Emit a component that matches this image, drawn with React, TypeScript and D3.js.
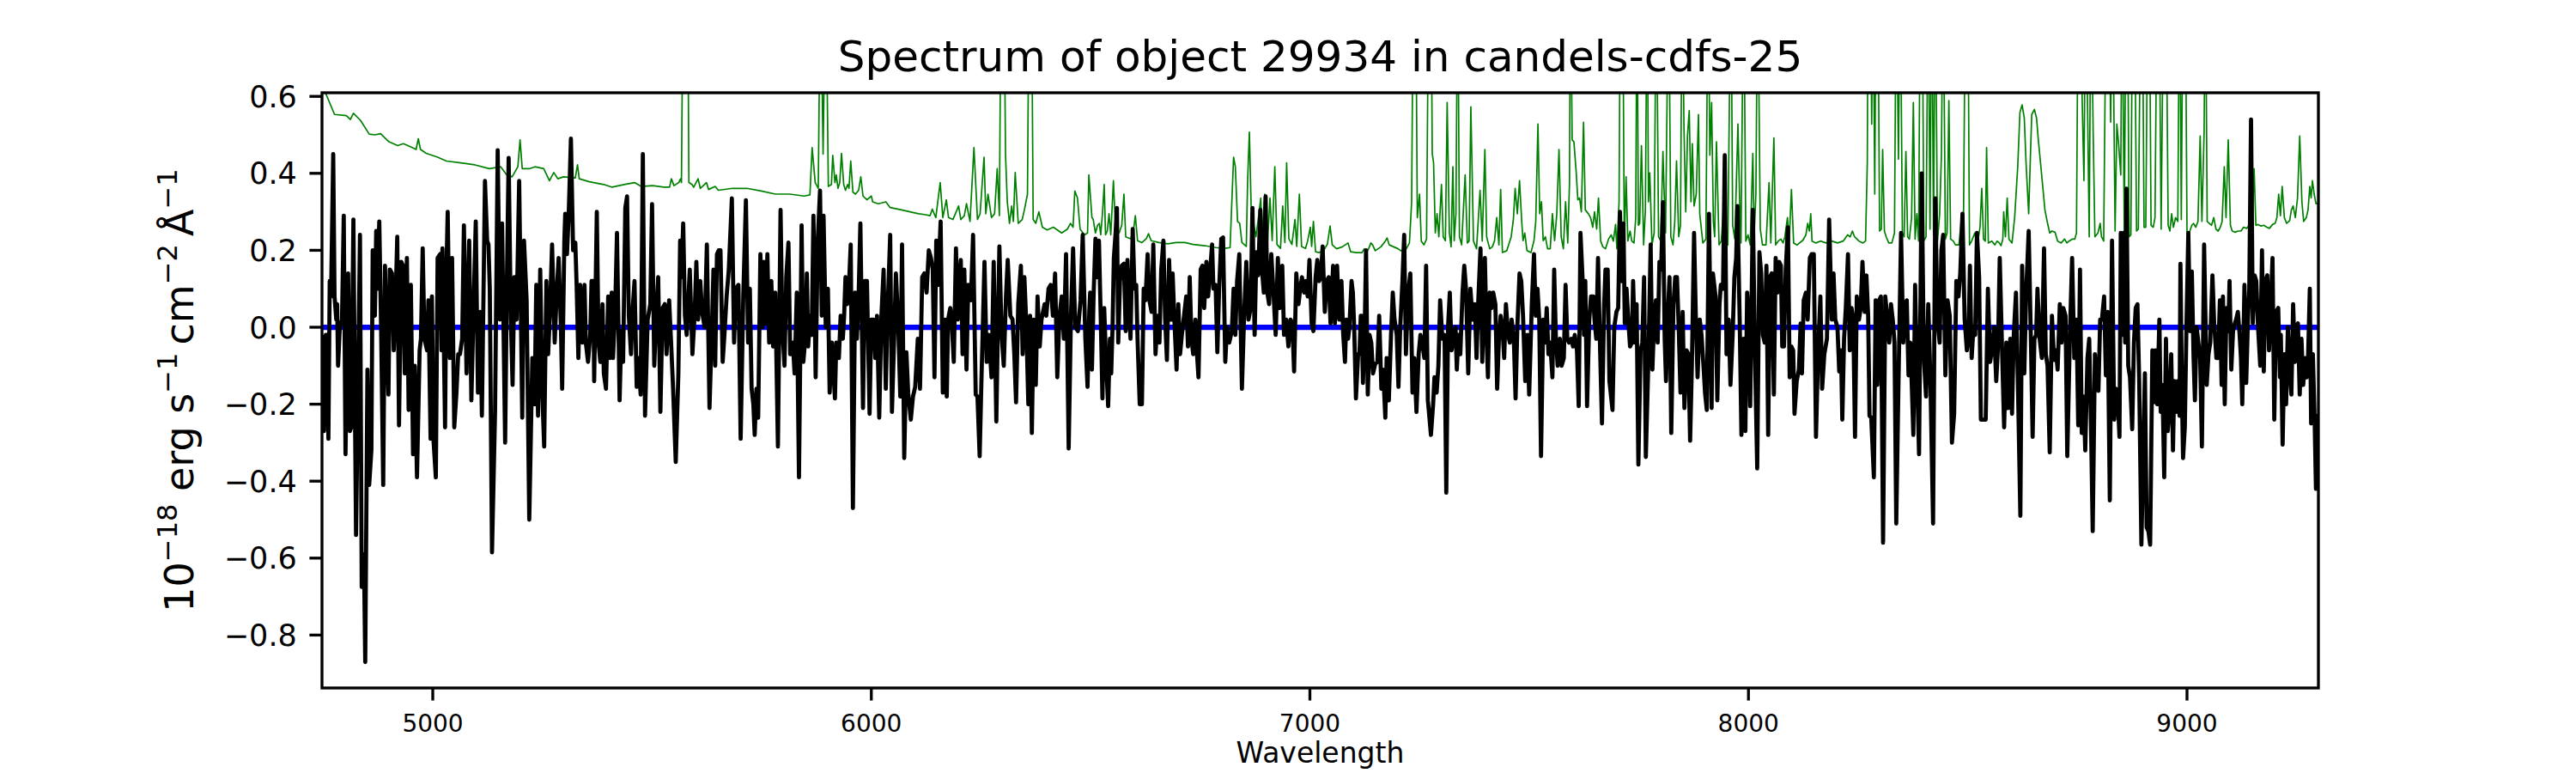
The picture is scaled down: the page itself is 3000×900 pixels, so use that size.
import React, { useEffect } from 'react';
import * as d3 from 'd3';

const TITLE = 'Spectrum of object 29934 in candels-cdfs-25';
const X_LABEL = 'Wavelength';
const X_TICKS = [5000, 6000, 7000, 8000, 9000];
const Y_TICKS = [-0.8, -0.6, -0.4, -0.2, 0.0, 0.2, 0.4, 0.6];
const X_DOMAIN: [number, number] = [4747.4, 9299.6];
const Y_DOMAIN: [number, number] = [-0.9375, 0.6094];

// Observed flux [wavelength (Å), flux (1e-18 erg/s/cm2/Å)]
const flux: [number, number][] = [
  [4749,-0.02],[4752,-0.27],[4756,-0.02],[4759,-0.02],[4762,-0.29],[4765,0.12],[4768,0.08],[4773,0.45],[4776,0.08],[4780,0.02],[4782,0.06],[4784,-0.10],[4788,0.00],[4793,0.02],[4797,0.29],[4801,-0.33],[4807,0.14],[4811,-0.27],[4814,-0.26],[4819,0.28],[4825,-0.54],[4834,0.24],[4838,-0.675],[4843,-0.59],[4846,-0.87],[4851,-0.11],[4855,-0.41],[4860,-0.32],[4863,0.20],[4868,0.03],[4871,0.25],[4874,0.10],[4878,0.275],[4882,0.01],[4887,-0.41],[4891,0.16],[4895,-0.02],[4899,-0.175],[4902,0.15],[4907,0.14],[4911,-0.06],[4915,0.06],[4919,0.235],[4923,-0.255],[4928,0.17],[4932,0.16],[4936,-0.12],[4941,0.18],[4945,-0.215],[4950,0.11],[4955,-0.33],[4959,-0.10],[4964,-0.39],[4970,-0.06],[4973,-0.03],[4977,0.205],[4981,-0.03],[4987,-0.06],[4990,0.07],[4995,-0.29],[4998,0.08],[5002,-0.30],[5007,-0.39],[5011,0.18],[5017,0.19],[5020,-0.06],[5022,0.205],[5028,-0.26],[5031,0.14],[5034,0.30],[5039,-0.08],[5044,0.18],[5049,-0.26],[5054,-0.17],[5058,-0.07],[5062,-0.07],[5067,-0.03],[5071,0.265],[5077,-0.12],[5083,0.225],[5088,-0.19],[5093,0.05],[5098,0.275],[5103,-0.17],[5108,0.04],[5112,-0.23],[5119,0.38],[5124,0.225],[5127,0.215],[5130,0.10],[5135,-0.585],[5142,-0.22],[5148,0.46],[5153,0.02],[5158,0.27],[5165,-0.30],[5169,0.12],[5173,0.44],[5178,0.02],[5182,-0.15],[5186,0.13],[5191,0.02],[5197,0.38],[5204,-0.235],[5208,0.225],[5214,0.07],[5220,-0.50],[5227,-0.08],[5232,-0.20],[5236,0.11],[5240,-0.23],[5245,0.15],[5250,-0.18],[5254,-0.31],[5259,0.12],[5263,-0.07],[5267,0.03],[5272,0.215],[5278,-0.04],[5283,0.10],[5287,0.18],[5292,0.01],[5295,-0.16],[5300,0.225],[5302,0.295],[5306,0.19],[5310,0.295],[5315,0.49],[5320,0.20],[5325,0.22],
  [5328,0.11],[5332,-0.08],[5336,0.11],[5341,-0.04],[5346,0.11],[5349,-0.04],[5354,-0.09],[5359,-0.02],[5362,0.12],[5366,0.12],[5368,-0.14],[5374,0.30],[5378,-0.04],[5382,-0.09],[5387,0.06],[5390,-0.12],[5395,-0.16],[5400,0.08],[5404,-0.08],[5408,0.09],[5411,-0.08],[5416,0.05],[5420,0.245],[5426,-0.19],[5430,-0.01],[5434,-0.09],[5439,0.31],[5443,0.34],[5447,0.03],[5452,-0.07],[5456,0.05],[5460,0.12],[5465,-0.155],[5469,-0.08],[5474,-0.175],[5479,0.45],[5484,-0.23],[5490,0.02],[5496,0.06],[5500,0.32],[5505,-0.10],[5509,0.02],[5514,0.13],[5519,-0.22],[5524,0.05],[5529,0.06],[5533,-0.07],[5539,0.07],[5543,-0.03],[5548,-0.16],[5554,-0.35],[5560,-0.12],[5564,0.225],[5567,0.13],[5571,0.27],[5575,0.03],[5579,-0.02],[5586,0.15],[5592,-0.07],[5597,0.03],[5601,0.17],[5605,0.02],[5610,0.12],[5614,0.04],[5620,0.00],[5625,0.215],[5631,-0.21],[5637,0.02],[5640,0.15],[5644,-0.10],[5648,0.19],[5652,0.20],[5656,0.20],[5661,-0.09],[5665,-0.02],[5670,0.08],[5675,0.15],[5682,0.335],[5687,-0.04],[5691,0.10],[5697,0.11],[5702,-0.29],[5708,0.08],[5714,0.33],[5719,-0.04],[5723,0.10],[5727,-0.16],[5731,-0.20],[5734,-0.28],[5738,-0.16],[5742,-0.235],[5747,0.19],[5752,0.00],[5755,0.17],[5759,0.01],[5763,0.19],[5767,-0.04],[5772,0.12],[5776,-0.05],[5781,0.09],[5787,-0.31],[5793,0.305],[5797,0.00],[5802,-0.10],[5806,0.13],[5811,0.22],[5815,-0.07],[5821,-0.04],[5825,-0.12],[5830,0.09],[5835,-0.39],[5841,0.265],[5845,-0.09],[5850,-0.02],[5853,0.14],[5856,-0.05],[5860,0.03],[5864,-0.02],[5868,0.29],[5873,-0.13],[5878,0.23],[5883,0.355],[5887,0.03],[5891,0.29],[5896,0.00],[5901,0.10],[5905,-0.17],[5910,-0.04],
  [5917,-0.185],[5920,-0.04],[5924,-0.05],[5926,-0.08],[5930,0.03],[5935,-0.03],[5938,0.03],[5941,0.13],[5945,0.06],[5949,0.11],[5953,0.215],[5958,-0.47],[5963,0.09],[5967,-0.03],[5971,0.08],[5975,0.27],[5981,-0.21],[5985,0.12],[5990,0.12],[5996,-0.225],[6000,0.02],[6005,0.02],[6009,-0.08],[6013,0.03],[6018,-0.235],[6023,0.03],[6028,0.15],[6033,-0.16],[6037,0.04],[6043,0.24],[6047,-0.22],[6052,-0.03],[6056,0.14],[6061,0.02],[6066,-0.18],[6070,0.215],[6075,-0.34],[6080,-0.065],[6084,-0.17],[6090,-0.24],[6095,-0.18],[6100,-0.155],[6106,-0.03],[6111,-0.16],[6116,0.13],[6121,0.14],[6126,0.09],[6131,0.20],[6136,0.18],[6140,0.15],[6144,-0.13],[6148,0.225],[6152,0.11],[6158,0.275],[6163,-0.17],[6168,0.02],[6172,-0.18],[6175,0.02],[6180,0.05],[6183,0.02],[6188,-0.09],[6193,0.205],[6197,0.02],[6200,0.10],[6204,0.175],[6208,-0.07],[6212,0.15],[6217,-0.11],[6221,0.11],[6227,0.07],[6232,0.24],[6238,-0.175],[6242,-0.18],[6247,-0.335],[6251,-0.14],[6258,0.17],[6263,-0.09],[6268,-0.02],[6274,-0.13],[6279,0.17],[6285,-0.245],[6289,0.03],[6292,0.21],[6297,-0.02],[6302,-0.10],[6307,0.08],[6311,0.175],[6317,0.03],[6322,0.02],[6326,-0.07],[6330,-0.195],[6335,0.06],[6341,0.16],[6345,-0.07],[6349,0.13],[6353,0.02],[6358,-0.20],[6362,0.03],[6366,-0.275],[6370,0.02],[6375,-0.15],[6379,0.08],[6384,-0.05],[6388,0.02],[6395,0.06],[6399,0.03],[6404,0.10],[6409,0.11],[6414,0.03],[6419,0.14],[6424,-0.13],[6429,0.03],[6434,0.08],[6439,-0.03],[6444,0.19],[6450,-0.315],[6455,0.02],[6460,0.205],[6465,0.00],[6471,-0.01],[6477,0.07],[6482,0.24],[6488,-0.03],[6493,-0.155],[6497,0.04],
  [6499,0.09],[6503,-0.11],[6507,0.09],[6511,0.23],[6514,0.13],[6519,0.225],[6523,0.03],[6527,-0.185],[6531,0.05],[6535,-0.08],[6540,-0.205],[6544,-0.03],[6547,-0.12],[6550,0.00],[6553,0.18],[6557,0.245],[6560,0.31],[6563,-0.04],[6567,0.12],[6571,0.16],[6576,0.165],[6580,-0.01],[6584,0.175],[6587,0.06],[6591,-0.03],[6596,0.255],[6600,0.10],[6604,0.11],[6607,-0.03],[6612,-0.20],[6617,-0.20],[6621,0.10],[6625,0.07],[6630,0.19],[6634,0.07],[6639,0.04],[6643,0.215],[6648,-0.07],[6653,0.03],[6657,-0.04],[6661,0.15],[6666,0.225],[6670,0.02],[6674,-0.085],[6679,0.175],[6683,0.02],[6687,0.14],[6691,0.02],[6696,-0.11],[6700,0.06],[6704,-0.07],[6708,-0.02],[6713,0.03],[6718,0.08],[6722,-0.05],[6726,0.13],[6730,-0.03],[6734,-0.07],[6739,0.02],[6742,-0.06],[6746,-0.13],[6751,0.15],[6755,0.16],[6759,0.05],[6764,0.17],[6768,0.08],[6772,0.14],[6777,0.215],[6780,0.10],[6785,0.11],[6789,-0.065],[6793,0.10],[6798,0.23],[6802,0.233],[6807,-0.09],[6811,0.00],[6816,-0.04],[6822,-0.01],[6826,0.10],[6830,-0.02],[6834,0.12],[6839,0.19],[6845,-0.16],[6850,0.03],[6855,0.17],[6860,0.02],[6865,0.05],[6869,0.31],[6874,-0.02],[6878,0.195],[6882,0.135],[6887,0.305],[6891,0.145],[6895,0.09],[6899,0.34],[6903,0.09],[6907,0.06],[6912,0.19],[6917,0.09],[6922,-0.02],[6927,0.18],[6931,0.05],[6937,0.16],[6941,-0.02],[6946,0.02],[6951,-0.05],[6956,0.02],[6960,0.01],[6964,-0.115],[6969,0.14],[6974,0.06],[6978,0.10],[6982,0.13],[6987,0.09],[6991,0.12],[6995,0.08],[6999,0.175],[7004,0.01],[7008,-0.01],[7013,0.13],[7017,0.175],[7021,0.12],[7025,0.13],[7029,0.21],[7034,0.04],[7038,0.12],[7043,0.13],[7047,0.01],[7053,0.16],[7057,0.01],[7062,0.16],[7067,0.02],[7072,0.12],[7076,-0.02],[7080,-0.09],[7083,0.02],
  [7087,-0.03],[7090,0.00],[7095,0.12],[7098,0.09],[7101,0.00],[7105,-0.185],[7110,-0.07],[7113,-0.07],[7116,0.03],[7118,0.03],[7121,-0.145],[7125,-0.01],[7128,0.20],[7132,-0.175],[7136,-0.02],[7140,-0.04],[7144,-0.12],[7149,-0.095],[7154,-0.09],[7158,0.03],[7163,-0.16],[7167,-0.11],[7172,-0.235],[7175,-0.08],[7180,-0.19],[7185,-0.02],[7189,0.09],[7193,0.02],[7198,-0.02],[7202,-0.155],[7206,0.00],[7211,0.12],[7215,0.24],[7219,-0.07],[7224,0.09],[7229,0.14],[7234,-0.17],[7238,-0.08],[7243,-0.22],[7248,-0.07],[7252,-0.02],[7256,-0.04],[7261,-0.08],[7265,0.16],[7269,-0.19],[7273,-0.24],[7276,-0.28],[7281,-0.20],[7284,-0.13],[7289,-0.17],[7293,-0.10],[7297,0.07],[7302,-0.03],[7307,-0.02],[7311,-0.43],[7315,0.00],[7319,0.09],[7323,-0.06],[7328,-0.02],[7332,0.00],[7335,-0.11],[7339,-0.02],[7343,-0.07],[7348,0.09],[7352,0.16],[7356,0.10],[7361,-0.12],[7366,0.10],[7371,0.02],[7376,0.06],[7380,-0.08],[7384,0.07],[7389,0.205],[7393,-0.09],[7399,0.18],[7403,-0.03],[7406,-0.13],[7410,0.09],[7414,0.05],[7418,0.09],[7423,0.06],[7427,-0.16],[7431,-0.03],[7435,0.03],[7439,0.00],[7443,-0.08],[7447,0.06],[7452,-0.02],[7456,-0.04],[7460,0.02],[7465,-0.03],[7469,-0.185],[7473,0.00],[7478,0.14],[7482,0.12],[7486,0.03],[7491,-0.14],[7496,-0.02],[7500,-0.175],[7506,0.06],[7511,0.19],[7515,0.03],[7519,0.10],[7523,0.02],[7527,-0.335],[7532,0.02],[7536,-0.04],[7540,0.05],[7544,-0.07],[7548,-0.04],[7553,-0.13],[7557,0.15],[7561,-0.03],[7565,-0.10],[7570,-0.03],[7574,-0.10],[7579,-0.08],[7583,0.11],[7587,-0.03],[7591,-0.04],[7596,-0.03],[7600,-0.05],[7604,-0.02],[7609,-0.06],[7613,-0.205],[7617,0.245],[7622,0.12],[7625,-0.02],[7628,0.12],[7632,-0.205],[7637,0.02],[7641,0.08],[7646,0.08],[7649,0.02],[7653,-0.03],[7657,0.18],[7662,-0.07],[7666,-0.25],[7671,0.06],
  [7674,0.15],[7679,0.15],[7683,-0.14],[7690,-0.215],[7694,0.00],[7699,0.04],[7703,0.05],[7707,0.30],[7711,0.12],[7715,0.27],[7718,0.01],[7722,0.10],[7726,0.02],[7730,-0.05],[7734,-0.04],[7737,0.12],[7741,-0.04],[7745,0.06],[7749,-0.357],[7754,-0.06],[7758,-0.04],[7762,0.13],[7766,-0.337],[7772,-0.08],[7777,0.215],[7781,-0.11],[7785,0.02],[7789,0.07],[7793,-0.04],[7797,0.17],[7801,0.15],[7805,0.325],[7809,-0.03],[7812,-0.14],[7816,0.03],[7820,0.13],[7824,-0.275],[7829,0.06],[7833,0.13],[7837,0.13],[7841,0.00],[7845,-0.17],[7850,0.04],[7854,-0.21],[7859,-0.06],[7863,-0.07],[7867,-0.295],[7871,-0.10],[7876,0.245],[7880,0.03],[7884,-0.13],[7889,0.02],[7893,-0.02],[7898,-0.11],[7901,-0.17],[7905,-0.215],[7910,0.295],[7916,-0.21],[7919,0.14],[7925,0.08],[7929,-0.19],[7934,0.06],[7937,0.11],[7942,0.10],[7946,0.447],[7950,-0.07],[7955,0.02],[7959,-0.15],[7964,-0.02],[7968,0.13],[7972,0.18],[7975,0.315],[7980,0.02],[7984,-0.28],[7989,-0.03],[7993,-0.27],[7997,0.09],[8000,0.04],[8004,-0.205],[8010,0.305],[8015,-0.08],[8020,-0.367],[8025,0.195],[8029,0.14],[8033,-0.02],[8037,-0.04],[8041,0.16],[8045,-0.28],[8049,0.13],[8053,0.14],[8058,-0.175],[8062,0.18],[8066,0.09],[8070,0.17],[8074,0.16],[8077,-0.05],[8081,-0.05],[8085,0.15],[8090,0.26],[8094,-0.13],[8098,-0.05],[8102,-0.06],[8105,-0.225],[8110,-0.14],[8115,-0.11],[8119,0.01],[8122,-0.12],[8126,0.07],[8131,0.09],[8135,0.02],[8140,0.18],[8144,0.19],[8149,0.19],[8154,-0.285],[8159,-0.06],[8164,0.08],[8168,-0.16],[8173,-0.07],[8179,-0.03],[8184,0.28],[8190,0.02],[8194,0.14],[8198,0.02],[8203,0.00],[8207,-0.115],[8211,-0.06],[8214,-0.24],[8218,-0.03],[8222,0.05],[8227,0.19],[8231,-0.06],[8235,0.05],[8239,0.02],[8243,-0.285],[8247,0.08],[8252,0.02],[8256,0.05],[8260,0.17],
  [8265,0.04],[8269,0.135],[8273,0.03],[8276,-0.23],[8280,-0.235],[8286,-0.39],[8290,0.07],[8294,-0.15],[8298,0.07],[8302,0.08],[8307,-0.56],[8312,0.08],[8317,0.02],[8321,-0.04],[8325,0.06],[8329,0.02],[8333,-0.04],[8337,-0.51],[8342,-0.15],[8348,0.245],[8353,-0.04],[8357,0.06],[8361,0.07],[8365,-0.125],[8369,-0.04],[8372,-0.135],[8376,-0.28],[8380,0.11],[8385,-0.15],[8389,-0.33],[8395,0.40],[8400,-0.08],[8405,-0.18],[8410,0.06],[8415,-0.14],[8421,-0.51],[8426,0.335],[8431,0.02],[8436,-0.04],[8440,0.20],[8444,0.24],[8449,-0.125],[8454,0.07],[8459,0.03],[8464,-0.30],[8469,-0.225],[8474,0.12],[8479,0.08],[8483,0.14],[8488,0.295],[8493,0.02],[8498,-0.06],[8502,-0.02],[8505,0.16],[8509,-0.08],[8513,0.00],[8517,-0.02],[8521,0.245],[8526,0.13],[8530,-0.24],[8535,-0.24],[8541,-0.24],[8546,0.10],[8551,-0.09],[8555,-0.06],[8560,0.00],[8565,-0.14],[8569,-0.05],[8573,0.18],[8579,-0.09],[8583,-0.26],[8588,-0.04],[8592,-0.21],[8597,-0.03],[8601,-0.225],[8605,-0.02],[8610,0.09],[8614,-0.12],[8620,-0.49],[8624,0.16],[8629,-0.12],[8633,0.08],[8639,0.25],[8644,-0.03],[8648,-0.285],[8652,-0.03],[8656,-0.02],[8659,0.10],[8664,-0.03],[8669,-0.08],[8674,0.205],[8678,-0.07],[8682,-0.10],[8687,-0.325],[8692,0.03],[8697,-0.085],[8701,-0.06],[8705,-0.11],[8710,0.06],[8714,-0.04],[8718,0.05],[8723,0.03],[8727,-0.335],[8733,-0.02],[8738,0.18],[8743,-0.08],[8748,0.02],[8752,-0.255],[8756,0.15],[8760,-0.275],[8764,-0.18],[8768,-0.32],[8773,-0.08],[8777,-0.03],[8781,-0.25],[8785,-0.53],[8790,-0.07],[8794,-0.16],[8798,-0.165],[8802,0.02],[8806,0.02],[8811,0.08],[8815,-0.125],[8819,0.04],[8824,-0.45],[8829,0.225],[8834,-0.24],[8838,-0.16],[8842,-0.18],[8846,-0.285],
  [8849,0.245],[8853,-0.02],[8855,0.245],[8859,-0.04],[8862,0.36],[8866,-0.10],[8870,-0.13],[8875,-0.265],[8879,-0.04],[8883,0.05],[8887,0.06],[8891,-0.14],[8896,-0.565],[8900,-0.34],[8904,-0.12],[8908,-0.52],[8912,-0.53],[8916,-0.565],[8921,-0.06],[8924,-0.195],[8928,-0.06],[8932,-0.20],[8937,0.02],[8940,-0.22],[8944,-0.15],[8948,-0.39],[8952,-0.03],[8956,-0.27],[8960,-0.21],[8964,-0.07],[8968,-0.32],[8971,-0.14],[8975,-0.22],[8979,-0.14],[8983,-0.23],[8985,0.165],[8989,-0.21],[8991,-0.34],[8995,-0.26],[8999,0.02],[9003,0.245],[9007,-0.01],[9011,0.145],[9015,-0.08],[9018,-0.19],[9022,0.00],[9026,-0.04],[9030,-0.08],[9034,-0.31],[9039,0.215],[9045,-0.15],[9049,-0.07],[9053,-0.04],[9058,0.135],[9062,0.01],[9067,-0.08],[9071,-0.08],[9075,0.07],[9079,-0.15],[9082,0.08],[9086,-0.20],[9090,0.05],[9094,-0.01],[9097,0.12],[9101,-0.11],[9105,-0.01],[9109,0.01],[9112,0.02],[9116,0.04],[9120,-0.02],[9123,-0.08],[9126,-0.20],[9131,0.11],[9135,-0.145],[9139,0.02],[9142,0.10],[9146,0.54],[9150,0.01],[9154,0.135],[9158,0.12],[9162,0.00],[9167,-0.10],[9171,0.20],[9175,-0.115],[9179,0.12],[9183,0.135],[9187,-0.06],[9191,0.06],[9195,0.18],[9199,-0.24],[9203,0.04],[9208,0.05],[9212,-0.13],[9214,-0.02],[9218,-0.305],[9222,-0.07],[9226,-0.20],[9230,0.00],[9234,-0.11],[9238,-0.175],[9242,0.06],[9246,-0.09],[9250,0.00],[9253,0.01],[9257,-0.175],[9261,-0.03],[9265,-0.15],[9269,-0.08],[9273,-0.13],[9276,-0.08],[9280,0.10],[9283,-0.25],[9287,-0.07],[9291,-0.24],[9294,-0.42],[9298,-0.23],[9300,-0.26]
];

// Noise / error spectrum [wavelength (Å), sigma] — sky-line spikes run off the top of the axes
const noise: [number, number][] = [
  [4747,0.64],[4755,0.61],[4776,0.553],[4803,0.550],[4812,0.540],[4819,0.556],[4835,0.538],[4855,0.502],[4868,0.500],[4881,0.503],[4900,0.482],[4920,0.472],[4933,0.477],[4953,0.467],[4962,0.462],[4967,0.490],[4972,0.462],[4985,0.452],[5011,0.442],[5031,0.432],[5064,0.427],[5096,0.422],[5129,0.412],[5155,0.417],[5168,0.397],[5181,0.391],[5194,0.417],[5199,0.487],[5204,0.412],[5220,0.412],[5233,0.417],[5253,0.412],[5266,0.381],[5276,0.402],[5285,0.386],[5298,0.391],[5325,0.388],
  [5330,0.422],[5334,0.386],[5357,0.378],[5390,0.371],[5409,0.364],[5436,0.371],[5460,0.376],[5475,0.366],[5501,0.368],[5527,0.364],[5540,0.364],[5544,0.386],[5550,0.368],[5561,0.376],[5565,0.386],[5567,0.376],[5571,0.95],[5576,0.95],[5581,0.95],[5584,0.376],[5591,0.371],[5595,0.364],[5605,0.386],[5610,0.361],[5624,0.376],[5629,0.358],[5644,0.366],[5651,0.356],[5684,0.361],[5716,0.361],[5749,0.354],[5781,0.346],[5814,0.346],[5847,0.341],[5860,0.344],[5865,0.467],[5872,0.376],[5879,0.361],[5884,0.95],[5890,0.45],[5896,0.95],[5902,0.366],[5909,0.371],
  [5912,0.447],[5917,0.376],[5920,0.396],[5924,0.361],[5928,0.376],[5932,0.452],[5937,0.371],[5941,0.356],[5946,0.371],[5949,0.361],[5953,0.432],[5958,0.351],[5964,0.346],[5971,0.356],[5976,0.391],[5981,0.341],[5990,0.331],[6000,0.341],[6003,0.326],[6016,0.321],[6033,0.326],[6043,0.311],[6069,0.305],[6088,0.300],[6108,0.295],[6121,0.293],[6134,0.290],[6139,0.307],[6147,0.285],[6157,0.376],[6163,0.285],[6171,0.331],[6176,0.285],[6186,0.280],[6199,0.315],[6204,0.280],[6212,0.290],[6217,0.321],[6225,0.275],[6234,0.467],[6242,0.280],[6248,0.295],[6257,0.442],[6261,0.295],[6266,0.346],[6274,0.285],[6281,0.295],[6287,0.412],[6292,0.290],[6296,0.95],[6302,0.95],[6306,0.447],[6310,0.326],[6315,0.270],[6320,0.315],[6324,0.275],[6328,0.402],[6335,0.270],[6344,0.280],[6349,0.305],[6356,0.346],[6360,0.95],[6365,0.95],[6369,0.280],[6375,0.270],[6382,0.300],[6390,0.260],[6401,0.253],[6415,0.260],[6434,0.245],[6447,0.255],[6454,0.270],[6460,0.260],[6464,0.354],[6470,0.336],[6476,0.255],[6486,0.240],[6493,0.245],[6496,0.396],
  [6503,0.285],[6506,0.280],[6511,0.245],[6516,0.265],[6520,0.270],[6523,0.240],[6527,0.295],[6531,0.371],[6534,0.240],[6538,0.250],[6542,0.295],[6546,0.240],[6552,0.381],[6557,0.250],[6565,0.245],[6571,0.265],[6576,0.346],[6580,0.235],[6591,0.230],[6597,0.245],[6602,0.290],[6607,0.225],[6617,0.220],[6627,0.230],[6632,0.243],[6638,0.225],[6656,0.220],[6676,0.217],[6695,0.220],[6715,0.220],[6734,0.215],[6760,0.212],[6786,0.207],[6806,0.205],[6818,0.207],[6822,0.326],[6826,0.442],[6830,0.417],[6835,0.275],[6840,0.270],[6845,0.220],[6855,0.210],[6858,0.381],[6862,0.507],[6866,0.315],[6871,0.275],[6877,0.235],[6881,0.270],[6888,0.336],[6891,0.235],[6897,0.346],[6903,0.210],[6909,0.336],[6914,0.225],[6920,0.417],[6925,0.215],[6933,0.205],[6938,0.315],[6943,0.220],[6947,0.427],[6952,0.230],[6959,0.215],[6966,0.280],[6970,0.210],[6976,0.346],[6981,0.210],[6990,0.205],[6995,0.225],[7001,0.260],[7004,0.210],[7008,0.275],[7013,0.196],[7021,0.194],[7031,0.199],[7040,0.216],[7046,0.263],[7051,0.214],[7061,0.204],[7074,0.209],[7087,0.219],
  [7093,0.196],[7106,0.194],[7119,0.194],[7124,0.204],[7129,0.194],[7134,0.204],[7139,0.219],[7143,0.214],[7149,0.199],[7162,0.209],[7172,0.224],[7176,0.232],[7181,0.214],[7191,0.209],[7201,0.204],[7207,0.199],[7220,0.204],[7227,0.219],[7232,0.326],[7236,0.95],[7241,0.95],[7245,0.285],[7250,0.346],[7254,0.224],[7260,0.214],[7266,0.229],[7271,0.95],[7276,0.95],[7279,0.452],[7282,0.427],[7286,0.245],[7290,0.295],[7294,0.235],[7300,0.371],[7304,0.235],[7309,0.225],[7313,0.584],[7318,0.245],[7322,0.209],[7326,0.417],[7329,0.225],[7333,0.295],[7337,0.95],[7341,0.235],[7346,0.214],[7354,0.396],[7359,0.219],[7363,0.224],[7367,0.573],[7373,0.224],[7380,0.204],[7388,0.356],[7393,0.224],[7399,0.462],[7403,0.235],[7410,0.204],[7416,0.209],[7421,0.224],[7426,0.285],[7431,0.214],[7435,0.358],[7439,0.194],[7449,0.199],[7459,0.235],[7464,0.280],[7468,0.361],[7473,0.295],[7478,0.381],[7483,0.275],[7486,0.225],[7490,0.245],[7495,0.199],[7504,0.194],[7511,0.225],[7515,0.275],[7520,0.528],[7524,0.295],[7528,0.326],[7532,0.225],[7537,0.235],[7542,0.204],[7548,0.204],[7553,0.295],[7558,0.225],[7563,0.295],[7568,0.462],[7573,0.235],[7578,0.204],[7583,0.326],[7588,0.219],[7592,0.376],[7594,0.95],[7598,0.487],[7602,0.482],[7607,0.407],[7611,0.331],[7615,0.336],[7619,0.300],[7624,0.533],[7628,0.305],[7635,0.295],[7640,0.285],[7645,0.260],[7649,0.300],[7654,0.255],[7658,0.336],[7663,0.224],[7668,0.209],[7674,0.204],
  [7681,0.229],[7687,0.240],[7692,0.224],[7697,0.267],[7700,0.204],[7705,0.326],[7708,0.95],[7713,0.95],[7717,0.214],[7721,0.391],[7725,0.224],[7730,0.250],[7734,0.224],[7739,0.219],[7743,0.285],[7746,0.95],[7749,0.265],[7752,0.270],[7756,0.472],[7761,0.214],[7765,0.305],[7769,0.95],[7772,0.326],[7775,0.401],[7780,0.214],[7785,0.245],[7790,0.95],[7795,0.235],[7800,0.224],[7805,0.457],[7809,0.305],[7811,0.245],[7818,0.95],[7823,0.235],[7828,0.214],[7832,0.275],[7836,0.432],[7841,0.235],[7845,0.265],[7849,0.95],[7853,0.518],[7857,0.300],[7861,0.497],[7865,0.563],[7869,0.326],[7872,0.477],[7876,0.315],[7881,0.346],[7886,0.553],[7889,0.295],[7896,0.219],[7903,0.229],[7908,0.95],[7912,0.447],[7916,0.584],[7920,0.275],[7923,0.235],[7927,0.482],[7933,0.214],[7938,0.224],[7943,0.305],[7948,0.270],[7953,0.214],[7960,0.95],[7964,0.265],[7969,0.229],[7976,0.528],[7980,0.326],[7983,0.219],[7989,0.95],[7994,0.224],[7999,0.240],[8004,0.214],[8010,0.452],[8013,0.235],[8017,0.346],[8021,0.95],[8027,0.255],[8032,0.214],[8040,0.214],[8047,0.376],[8051,0.219],[8058,0.492],[8062,0.214],[8068,0.224],[8074,0.229],[8079,0.219],[8083,0.235],[8089,0.285],[8093,0.224],[8098,0.358],[8103,0.219],[8111,0.214],[8124,0.226],[8131,0.240],[8135,0.270],[8139,0.250],[8142,0.295],[8145,0.224],[8154,0.219],[8164,0.224],[8177,0.219],[8190,0.224],[8203,0.219],[8216,0.224],[8226,0.240],[8232,0.235],[8237,0.250],[8242,0.235],[8252,0.224],[8261,0.219],
  [8267,0.224],[8271,0.427],[8273,0.95],[8278,0.95],[8281,0.528],[8284,0.95],[8288,0.346],[8291,0.95],[8295,0.95],[8299,0.250],[8303,0.255],[8306,0.462],[8310,0.250],[8314,0.235],[8320,0.219],[8327,0.219],[8333,0.245],[8337,0.95],[8342,0.437],[8346,0.95],[8351,0.245],[8355,0.235],[8359,0.457],[8363,0.235],[8367,0.229],[8372,0.285],[8376,0.584],[8380,0.229],[8384,0.295],[8388,0.224],[8392,0.95],[8396,0.95],[8400,0.224],[8405,0.235],[8410,0.95],[8414,0.255],[8418,0.95],[8422,0.240],[8426,0.95],[8431,0.224],[8436,0.295],[8440,0.447],[8444,0.95],[8449,0.229],[8453,0.245],[8457,0.589],[8461,0.229],[8467,0.224],[8472,0.214],[8480,0.214],[8485,0.275],[8490,0.224],[8495,0.95],[8500,0.95],[8504,0.214],[8509,0.224],[8516,0.245],[8522,0.214],[8528,0.260],[8532,0.361],[8536,0.229],[8540,0.224],[8543,0.467],[8547,0.219],[8555,0.224],[8562,0.214],[8567,0.224],[8572,0.219],[8576,0.212],[8580,0.229],[8582,0.300],[8586,0.235],[8590,0.336],[8594,0.229],[8601,0.219],[8607,0.285],[8614,0.417],[8619,0.558],[8624,0.578],[8629,0.543],[8633,0.427],[8639,0.295],[8643,0.447],[8646,0.553],[8652,0.566],[8657,0.543],[8661,0.487],[8666,0.427],[8671,0.366],[8676,0.305],[8682,0.270],[8687,0.245],[8692,0.250],[8699,0.247],[8705,0.224],[8713,0.219],[8721,0.229],[8726,0.219],[8731,0.224],[8738,0.229],[8744,0.229],[8748,0.245],[8752,0.95],[8757,0.95],[8761,0.588],[8765,0.381],[8769,0.95],[8773,0.599],[8777,0.235],[8781,0.95],[8786,0.508],[8790,0.235],[8797,0.245],[8802,0.270],[8805,0.235],[8810,0.224],[8816,0.95],[8821,0.95],[8826,0.533],[8830,0.95],[8836,0.250],[8840,0.528],[8844,0.477],[8849,0.396],
  [8852,0.95],[8857,0.245],[8861,0.95],[8864,0.95],[8868,0.235],[8872,0.240],[8876,0.95],[8880,0.95],[8885,0.250],[8889,0.255],[8895,0.95],[8898,0.95],[8902,0.260],[8906,0.260],[8911,0.95],[8914,0.95],[8918,0.265],[8923,0.260],[8927,0.285],[8932,0.95],[8936,0.95],[8941,0.255],[8947,0.95],[8952,0.95],[8957,0.265],[8961,0.250],[8965,0.295],[8969,0.260],[8974,0.285],[8979,0.275],[8983,0.95],[8987,0.280],[8991,0.95],[8996,0.95],[9000,0.245],[9005,0.245],[9011,0.265],[9015,0.270],[9020,0.260],[9025,0.275],[9030,0.497],[9034,0.275],[9039,0.508],[9042,0.95],[9046,0.275],[9051,0.270],[9056,0.265],[9061,0.285],[9066,0.255],[9071,0.250],[9076,0.260],[9080,0.275],[9085,0.417],[9089,0.285],[9094,0.487],[9099,0.265],[9103,0.250],[9110,0.247],[9116,0.250],[9123,0.250],[9129,0.260],[9136,0.257],[9142,0.265],[9149,0.270],[9153,0.412],[9157,0.265],[9162,0.267],[9169,0.263],[9175,0.265],[9182,0.260],[9188,0.257],[9195,0.267],[9201,0.270],[9205,0.285],[9209,0.346],[9213,0.290],[9217,0.366],[9222,0.285],[9227,0.270],[9234,0.277],[9238,0.305],[9242,0.315],[9247,0.285],[9252,0.336],[9257,0.497],[9262,0.326],[9266,0.275],[9272,0.285],[9276,0.305],[9280,0.366],[9283,0.336],[9286,0.381],[9290,0.346],[9294,0.321],[9300,0.321]
];

// Zero reference level
const zeroLevel: [number, number][] = [[4747.4, 0], [9299.6, 0]];

const FONT = '"DejaVu Sans", Verdana, sans-serif';

export default function App() {
  useEffect(() => {
    document.body.style.margin = '0';
  }, []);

  const W = 3000;
  const H = 900;
  const left = 375, right = 2700, top = 108, bottom = 801;
  const x = d3.scaleLinear().domain(X_DOMAIN).range([left, right]);
  const y = d3.scaleLinear().domain(Y_DOMAIN).range([bottom, top]);
  const line = d3.line<[number, number]>().x(d => x(d[0])).y(d => y(d[1]));

  const tickLen = 14.6;
  const tickW = 3.33;
  const fmtY = (v: number) => {
    const s = Math.abs(v).toFixed(1);
    return v < -1e-9 ? '\u2212' + s : s;
  };

  const sup = (t: string) => (
    <tspan fontSize={32} dy={-19}>{t}</tspan>
  );

  return (
    <svg width={W} height={H} style={{ display: 'block' }} fontFamily={FONT}>
      <rect x={0} y={0} width={W} height={H} fill="#ffffff" />
      <defs>
        <clipPath id="plotArea">
          <rect x={left} y={top} width={right - left} height={bottom - top} />
        </clipPath>
      </defs>

      <text x={(left + right) / 2} y={83} fontSize={50} textAnchor="middle" fill="#000">{TITLE}</text>

      <g clipPath="url(#plotArea)">
        <path d={line(noise) || ''} fill="none" stroke="#008000" strokeWidth={1.7} strokeLinejoin="round" />
        <path d={line(zeroLevel) || ''} fill="none" stroke="#0000ff" strokeWidth={6.25} />
        <path d={line(flux) || ''} fill="none" stroke="#000000" strokeWidth={4.8} strokeLinejoin="round" />
      </g>

      <rect x={left} y={top} width={right - left} height={bottom - top} fill="none" stroke="#000" strokeWidth={tickW} />

      {Y_TICKS.map(v => (
        <g key={'y' + v}>
          <line x1={left - tickLen} x2={left} y1={y(v)} y2={y(v)} stroke="#000" strokeWidth={tickW} />
          <text x={left - tickLen - 14.6} y={y(v)} dy={12.5} fontSize={35} textAnchor="end" fill="#000">{fmtY(v)}</text>
        </g>
      ))}

      {X_TICKS.map(v => (
        <g key={'x' + v}>
          <line x1={x(v)} x2={x(v)} y1={bottom} y2={bottom + tickLen} stroke="#000" strokeWidth={tickW} />
          <text x={x(v)} y={851.7} fontSize={28} textAnchor="middle" fill="#000">{String(v)}</text>
        </g>
      ))}

      <text x={(left + right) / 2} y={887.7} fontSize={33} textAnchor="middle" fill="#000">{X_LABEL}</text>

      <text transform={`translate(225,${(top + bottom) / 2}) rotate(-90)`} fontSize={46} textAnchor="middle" fill="#000">
        <tspan>10</tspan>
        {sup('\u221218')}
        <tspan dy={19}>{' erg s'}</tspan>
        {sup('\u22121')}
        <tspan dy={19}>{'\u2009cm'}</tspan>
        {sup('\u22122')}
        <tspan dy={19}>{'\u2009\u00C5'}</tspan>
        {sup('\u22121')}
      </text>
    </svg>
  );
}
